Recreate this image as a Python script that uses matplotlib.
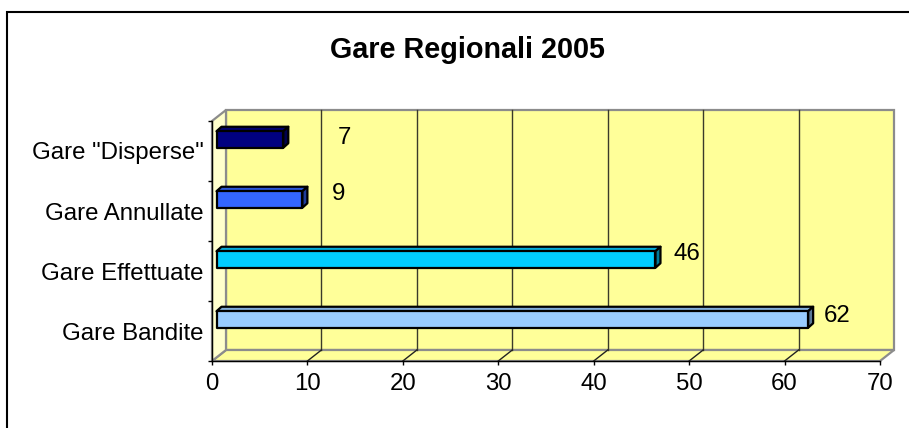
import numpy as np
import matplotlib.pyplot as plt
from matplotlib.patches import Rectangle, Polygon
from matplotlib.colors import to_rgb

plt.rcParams['font.family'] = ['Liberation Sans', 'DejaVu Sans']

# data (bottom to top, as in the chart)
categories = ['Gare Bandite', 'Gare Effettuate', 'Gare Annullate', 'Gare "Disperse"']
values = [62, 46, 9, 7]
bar_colors = ['#99CCFF', '#00CCFF', '#3366FF', '#000080']
xticks = [0, 10, 20, 30, 40, 50, 60, 70]
title = 'Gare Regionali 2005'

# label nudges in pixels (excel puts 3d labels a bit oddly)
lab_dx = [24, 26.5, 31, 56]
lab_dy = [3.5, 6, 5.5, 1]

fs = 17.3

W, H = 909, 428
fig = plt.figure(figsize=(W / 100, H / 100), dpi=100)

# front plane of the 3d box
ax = fig.add_axes([212 / W, (H - 361) / H, (880 - 212) / W, (361 - 121) / H])
ax.set_xlim(0, 70)
ax.set_ylim(-0.5, 3.5)
ax.patch.set_visible(False)

# pixel -> data unit helpers
sx = 70 / (880 - 212)
sy = 4 / (361 - 121)
dxw, dyw = 14 * sx, 11 * sy  # depth of the box

gray = '#8c8c8c'
# back wall
ax.add_patch(Rectangle((dxw, -0.5 + dyw), 70, 4, fc='#FFFF99', ec=gray, lw=1.6,
                       clip_on=False, zorder=0))
# floor
ax.add_patch(Polygon([(0, -0.5), (70, -0.5), (70 + dxw, -0.5 + dyw), (dxw, -0.5 + dyw)],
                     fc='#FFFF99', ec=gray, lw=1.6, clip_on=False, zorder=0.5))
# left wall
ax.add_patch(Polygon([(0, -0.5), (dxw, -0.5 + dyw), (dxw, 3.5 + dyw), (0, 3.5)],
                     fc='#FFFFCC', ec=gray, lw=1.6, clip_on=False, zorder=0.5))

# gridlines on back wall + floor
for t in xticks[1:-1]:
    ax.plot([t + dxw, t + dxw], [-0.5 + dyw, 3.5 + dyw], color='#3a3a2a', lw=1,
            clip_on=False, zorder=1)
    ax.plot([t, t + dxw], [-0.5, -0.5 + dyw], color='#222222', lw=1,
            clip_on=False, zorder=1)

# bars
bx = 4.5 * sx
by = 11.5 * sy
h = 16.5 * sy
ddx, ddy = 5 * sx, 4.5 * sy

def shade(c, f):
    r, g, b = to_rgb(c)
    return (r * f, g * f, b * f)

for i, (v, c) in enumerate(zip(values, bar_colors)):
    yc = i + by
    x0, x1 = bx, v + bx
    ax.add_patch(Polygon([(x0, yc + h / 2), (x1, yc + h / 2), (x1 + ddx, yc + h / 2 + ddy),
                          (x0 + ddx, yc + h / 2 + ddy)], fc=shade(c, 0.85), ec='black',
                         lw=1.6, joinstyle='round', clip_on=False, zorder=3))
    ax.add_patch(Polygon([(x1, yc - h / 2), (x1 + ddx, yc - h / 2 + ddy),
                          (x1 + ddx, yc + h / 2 + ddy), (x1, yc + h / 2)], fc=shade(c, 0.6),
                         ec='black', lw=1.6, joinstyle='round', clip_on=False, zorder=3))
    ax.add_patch(Rectangle((x0, yc - h / 2), v, h, fc=c, ec='black', lw=1.6,
                           joinstyle='round', clip_on=False, zorder=4))
    ax.text(x1 + ddx + lab_dx[i] * sx, yc + lab_dy[i] * sy, str(v), ha='center',
            va='center', fontsize=fs, zorder=5)

# axes / ticks
for s in ['top', 'right']:
    ax.spines[s].set_visible(False)
for s in ['left', 'bottom']:
    ax.spines[s].set_color('black')
    ax.spines[s].set_linewidth(1)
    ax.spines[s].set_zorder(2)

ax.set_xticks(xticks)
ax.set_xticklabels([str(t) for t in xticks], fontsize=fs)
ax.tick_params(axis='x', length=3, width=1, pad=6)

ax.set_yticks(np.arange(-0.5, 4, 1))
ax.set_yticklabels([])
ax.set_yticks(np.arange(len(categories)), minor=True)
ax.set_yticklabels(categories, minor=True, fontsize=fs)
ax.tick_params(axis='y', which='major', length=3, width=1)
ax.tick_params(axis='y', which='minor', length=0, pad=6)

fig.text(467 / W, 1 - 50 / H, title, ha='center', va='center', fontsize=20.7,
         fontweight='bold')

# outer chart border (runs off the right and bottom of the picture)
fig.add_artist(Rectangle((7 / W, -0.1), 1.2, 1 - 12 / H + 0.1, transform=fig.transFigure,
                         fill=False, ec='black', lw=1.5))

fig.savefig('out.png', dpi=100)
